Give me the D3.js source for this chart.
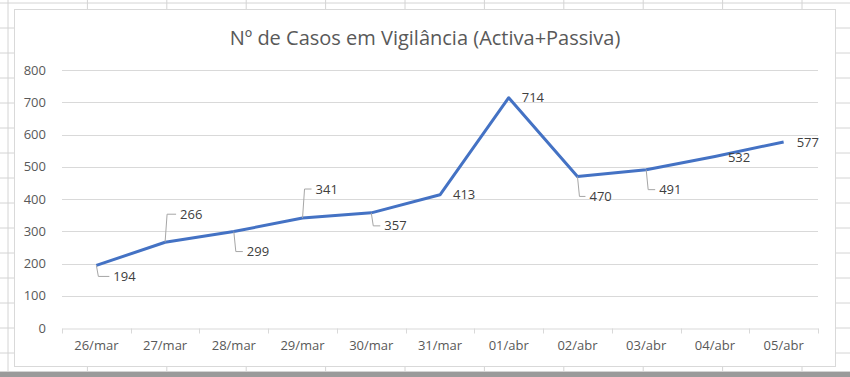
<!DOCTYPE html>
<html>
<head>
<meta charset="utf-8">
<script src="https://cdn.jsdelivr.net/npm/d3@7"></script>
<style>
  body { margin: 0; background: #fff; }
  svg { display: block; }
  text { font-family: "Open Sans", sans-serif; fill: #595959; }
</style>
</head>
<body>
<svg id="chart"></svg>
<script>
// data
var dates = ["26/mar", "27/mar", "28/mar", "29/mar", "30/mar", "31/mar",
             "01/abr", "02/abr", "03/abr", "04/abr", "05/abr"];
var cases = [194, 266, 299, 341, 357, 413, 714, 470, 491, 532, 577];
var yTicks = [0, 100, 200, 300, 400, 500, 600, 700, 800];

// label placement relative to the point (px), leader = draw a leader line
var labelDx = [17, 15, 13, 13, 13, 13, 13, 12, 13, 13, 13];
var labelDy = [11, -28, 20, -29, 13, 0, 0, 20, 20, 1, 1];
var leader  = [true, true, true, true, true, false, false, true, true, false, false];

var W = 850, H = 377;
var svg = d3.select("#chart").attr("width", W).attr("height", H);

// spreadsheet grid behind the chart
var sheet = svg.append("g").attr("class", "sheet");
d3.range(8, W, 79.4).forEach(function (x) {
    sheet.append("line").attr("x1", x).attr("x2", x).attr("y1", 0).attr("y2", 372)
        .attr("stroke", "#d4d4d4");
});
d3.range(3, 372, 25).forEach(function (y) {
    sheet.append("line").attr("x1", 0).attr("x2", W).attr("y1", y).attr("y2", y)
        .attr("stroke", "#d4d4d4");
});
svg.append("rect").attr("x", 0).attr("y", 372).attr("width", W).attr("height", 5)
    .attr("fill", "#9a9a9a");
svg.append("line").attr("x1", 0).attr("x2", W).attr("y1", 371.5).attr("y2", 371.5)
    .attr("stroke", "#d4d4d4");

// chart area
svg.append("rect")
    .attr("x", 14.5).attr("y", 9.5).attr("width", 821).attr("height", 357)
    .attr("fill", "#fff").attr("stroke", "#d9d9d9");

var margin = { top: 70, left: 62 },
    width = 756, height = 258;

var g = svg.append("g")
    .attr("transform", "translate(" + margin.left + "," + margin.top + ")");

var x = d3.scaleBand().domain(dates).range([0, width]);
var y = d3.scaleLinear().domain([0, 800]).range([height, 0]);

// gridlines
g.append("g")
    .selectAll("line")
    .data(yTicks.filter(function (d) { return d > 0; }))
    .enter().append("line")
    .attr("x1", 0).attr("x2", width)
    .attr("y1", function (d) { return Math.round(y(d)) + 0.5; })
    .attr("y2", function (d) { return Math.round(y(d)) + 0.5; })
    .attr("stroke", "#d9d9d9");

// y axis labels
g.append("g")
    .selectAll("text")
    .data(yTicks)
    .enter().append("text")
    .attr("x", -16)
    .attr("y", function (d) { return y(d); })
    .attr("dy", "0.35em")
    .attr("text-anchor", "end")
    .style("font-size", "13px")
    .text(function (d) { return d; });

// x axis
var xAxis = g.append("g")
    .attr("transform", "translate(0," + (height + 0.5) + ")")
    .call(d3.axisBottom(x).tickSize(0).tickPadding(12));
xAxis.select(".domain").attr("stroke", "#d9d9d9");
xAxis.selectAll("text")
    .style("font-size", "13px")
    .style("font-family", "'Open Sans', sans-serif")
    .attr("fill", "#595959");
xAxis.selectAll(".bound")
    .data(d3.range(dates.length + 1))
    .enter().append("line")
    .attr("class", "bound")
    .attr("x1", function (i) { return Math.round(i * x.bandwidth()) + 0.5; })
    .attr("x2", function (i) { return Math.round(i * x.bandwidth()) + 0.5; })
    .attr("y1", 0).attr("y2", 5)
    .attr("stroke", "#d9d9d9");

function px(i) { return x(dates[i]) + x.bandwidth() / 2; }

// series line
var line = d3.line()
    .x(function (d, i) { return px(i); })
    .y(function (d) { return y(d); });

g.append("path")
    .datum(cases)
    .attr("d", line)
    .attr("fill", "none")
    .attr("stroke", "#4472c4")
    .attr("stroke-width", 3)
    .attr("stroke-linejoin", "round");

// leader lines
g.append("g")
    .selectAll("path")
    .data(d3.range(cases.length).filter(function (i) { return leader[i]; }))
    .enter().append("path")
    .attr("d", function (i) {
        var x0 = px(i), y0 = y(cases[i]);
        var ly = y0 + labelDy[i];
        var lx = x0 + labelDx[i];
        return "M" + x0 + "," + y0 + "L" + (x0 + 2) + "," + ly + "L" + (lx - 4) + "," + ly;
    })
    .attr("fill", "none")
    .attr("stroke", "#a6a6a6")
    .attr("stroke-width", 1);

// data labels
g.append("g")
    .selectAll("text")
    .data(cases)
    .enter().append("text")
    .attr("x", function (d, i) { return px(i) + labelDx[i]; })
    .attr("y", function (d, i) { return y(d) + labelDy[i]; })
    .attr("dy", "0.35em")
    .style("font-size", "13px")
    .style("fill", "#404040")
    .text(function (d) { return d; });

// title
svg.append("text")
    .attr("x", 425)
    .attr("y", 45)
    .attr("text-anchor", "middle")
    .style("font-size", "20px")
    .text("Nº de Casos em Vigilância (Activa+Passiva)");
</script>
</body>
</html>
